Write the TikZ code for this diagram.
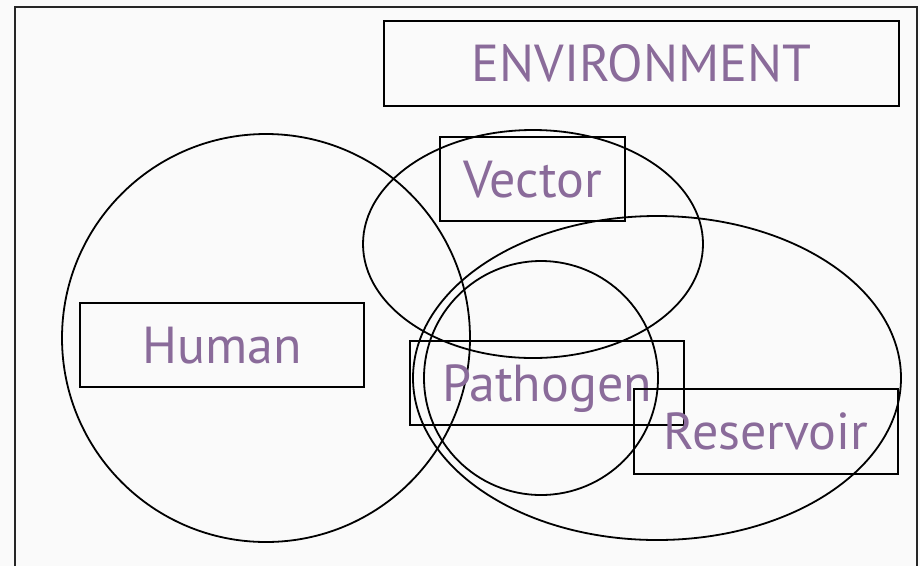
\documentclass[tikz,border=0pt]{standalone}
\usepackage{fontspec}
\setsansfont{PT Sans}
\usetikzlibrary{shapes.geometric}
\definecolor{lilac}{HTML}{8A6B9A}
\tikzset{
    box/.style={draw, black, line width=1.8pt, rectangle, inner sep=0pt,
        text height=36pt, text depth=0pt,
        text=lilac, font=\sffamily\fontsize{52}{58}\selectfont},
    ring/.style={draw, black, line width=1.8pt}
}
\begin{document}
\begin{tikzpicture}[x=1pt, y=-1pt]
    \useasboundingbox[fill=white!98!black] (0,0) rectangle (920,566);
    % open frame round everything
    \draw[line width=2pt, black!85] (15,566) -- (15,7) -- (917,7) -- (917,566);
    % circles and ellipses
    \draw[ring] (266,338) circle[radius=204];
    \draw[ring] (533,244) ellipse[x radius=170, y radius=114];
    \draw[ring] (657,378) ellipse[x radius=244, y radius=162];
    \draw[ring] (541,378) circle[radius=117];
    % labelled boxes
    \node[box, minimum width=515, minimum height=85] (env) at (641.5,63.5) {ENVIRONMENT};
    \node[box, minimum width=185, minimum height=84] (vector) at (532.5,179) {Vector};
    \node[box, minimum width=284, minimum height=84] (human) at (222,345) {Human};
    \node[box, minimum width=274, minimum height=84] (pathogen) at (547,383) {Pathogen};
    \node[box, minimum width=264, minimum height=85] (reservoir) at (766,431.5) {Reservoir};
\end{tikzpicture}
\end{document}
